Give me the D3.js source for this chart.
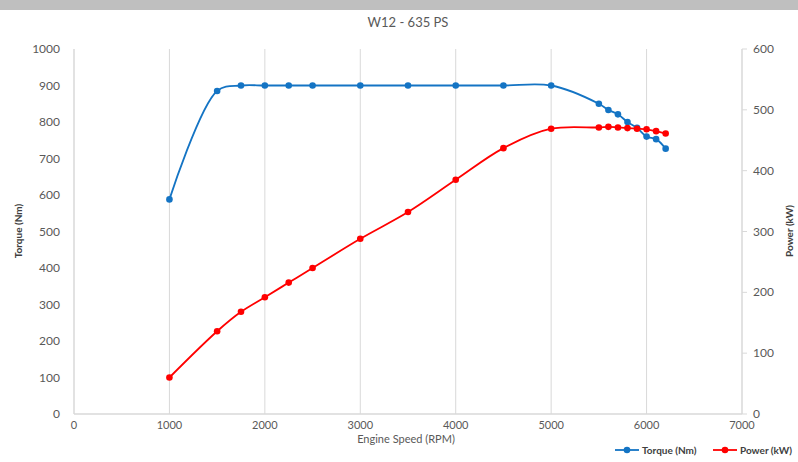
<!DOCTYPE html>
<html>
<head>
<meta charset="utf-8">
<script src="https://cdn.jsdelivr.net/npm/d3@7"></script>
<style>
  html, body { margin: 0; padding: 0; background: #fff; }
  svg { display: block; font-family: Lato, "Open Sans", sans-serif; }
</style>
</head>
<body>
<svg id="chart" width="798" height="462"></svg>
<script>
// Engine curve data
const rpm = [1000, 1500, 1750, 2000, 2250, 2500, 3000, 3500, 4000, 4500, 5000,
             5500, 5600, 5700, 5800, 5900, 6000, 6100, 6200];
const torqueNm = [588, 885, 900, 900, 900, 900, 900, 900, 900, 900, 900,
                  850, 833, 821, 800, 784, 760, 753, 727];
const powerKw = [60, 136, 168, 192, 216, 240, 288, 332, 385, 437, 469,
                 471, 472, 471, 470, 469, 468, 465, 461];
const xTicks = [0, 1000, 2000, 3000, 4000, 5000, 6000, 7000];
const torqueTicks = [0, 100, 200, 300, 400, 500, 600, 700, 800, 900, 1000];
const powerTicks = [0, 100, 200, 300, 400, 500, 600];

const svg = d3.select('#chart');
const plot = { left: 74, right: 742, top: 49, bottom: 414 };

const x = d3.scaleLinear().domain([0, 7000]).range([plot.left, plot.right]);
const yT = d3.scaleLinear().domain([0, 1000]).range([plot.bottom, plot.top]);
const yP = d3.scaleLinear().domain([0, 600]).range([plot.bottom, plot.top]);

const grey = '#d9d9d9';
const txt = '#595959';

// window strip at top
svg.append('rect').attr('x', 0).attr('y', 0).attr('width', 798).attr('height', 10).attr('fill', '#bfbfbf');

// vertical gridlines
svg.append('g')
  .selectAll('line')
  .data(xTicks.slice(1, -1))
  .join('line')
  .attr('x1', (d) => x(d)).attr('x2', (d) => x(d))
  .attr('y1', plot.top).attr('y2', plot.bottom)
  .attr('stroke', grey).attr('stroke-width', 1);

// axis lines
svg.append('line').attr('x1', plot.left).attr('x2', plot.left).attr('y1', plot.top).attr('y2', plot.bottom)
  .attr('stroke', grey).attr('stroke-width', 1.5);
svg.append('line').attr('x1', plot.right).attr('x2', plot.right).attr('y1', plot.top).attr('y2', plot.bottom)
  .attr('stroke', grey).attr('stroke-width', 1.5);
svg.append('line').attr('x1', plot.left).attr('x2', plot.right).attr('y1', plot.bottom).attr('y2', plot.bottom)
  .attr('stroke', grey).attr('stroke-width', 1.5);

// right axis ticks
svg.append('g')
  .selectAll('line')
  .data(powerTicks)
  .join('line')
  .attr('x1', plot.right).attr('x2', plot.right + 5)
  .attr('y1', (d) => yP(d)).attr('y2', (d) => yP(d))
  .attr('stroke', grey);

// tick labels
svg.append('g')
  .selectAll('text')
  .data(torqueTicks)
  .join('text')
  .attr('x', 60).attr('y', (d) => yT(d) + 4)
  .attr('text-anchor', 'end')
  .attr('font-size', '12px').attr('fill', txt)
  .text((d) => d);

svg.append('g')
  .selectAll('text')
  .data(powerTicks)
  .join('text')
  .attr('x', 753).attr('y', (d) => yP(d) + 4)
  .attr('font-size', '12px').attr('fill', txt)
  .text((d) => d);

svg.append('g')
  .selectAll('text')
  .data(xTicks)
  .join('text')
  .attr('x', (d) => x(d)).attr('y', 429)
  .attr('text-anchor', 'middle')
  .attr('font-size', '11px').attr('fill', txt)
  .text((d) => d);

// titles
svg.append('text').attr('x', 408).attr('y', 27).attr('text-anchor', 'middle')
  .attr('font-size', '13px').attr('fill', txt).text('W12 - 635 PS');
svg.append('text').attr('x', 406).attr('y', 443).attr('text-anchor', 'middle')
  .attr('font-size', '11px').attr('fill', txt).text('Engine Speed (RPM)');
svg.append('text').attr('transform', 'translate(22,231) rotate(-90)').attr('text-anchor', 'middle')
  .attr('font-size', '10px').attr('font-weight', 'bold').attr('fill', '#404040').text('Torque (Nm)');
svg.append('text').attr('transform', 'translate(793,231) rotate(-90)').attr('text-anchor', 'middle')
  .attr('font-size', '10px').attr('font-weight', 'bold').attr('fill', '#404040').text('Power (kW)');

// series
const series = [
  { name: 'Torque (Nm)', values: torqueNm, y: yT, color: '#1474c4', lx: 615 },
  { name: 'Power (kW)', values: powerKw, y: yP, color: '#ff0000', lx: 713 }
];

series.forEach((s) => {
  const pts = rpm.map((r, i) => [x(r), s.y(s.values[i])]);
  svg.append('path')
    .attr('d', d3.line().curve(d3.curveCatmullRom.alpha(0.5))(pts))
    .attr('fill', 'none').attr('stroke', s.color).attr('stroke-width', 1.8);
  svg.append('g')
    .selectAll('circle')
    .data(pts)
    .join('circle')
    .attr('cx', (d) => d[0]).attr('cy', (d) => d[1])
    .attr('r', 3.3).attr('fill', s.color);

  // legend entry
  svg.append('line').attr('x1', s.lx).attr('x2', s.lx + 24).attr('y1', 450).attr('y2', 450)
    .attr('stroke', s.color).attr('stroke-width', 1.8);
  svg.append('circle').attr('cx', s.lx + 12).attr('cy', 450).attr('r', 3.3).attr('fill', s.color);
  svg.append('text').attr('x', s.lx + 27).attr('y', 453.5)
    .attr('font-size', '10px').attr('font-weight', 'bold').attr('fill', '#404040').text(s.name);
});
</script>
</body>
</html>
